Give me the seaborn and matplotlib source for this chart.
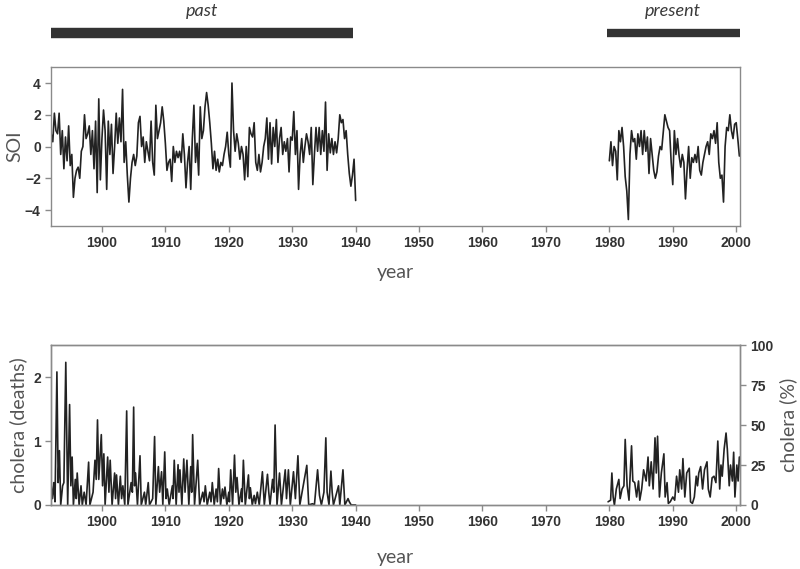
import numpy as np
import pandas as pd
import matplotlib
matplotlib.use("Agg")
import matplotlib.pyplot as plt
import seaborn as sns

# SOI, quarterly values
soi_past_start = 1892.0
soi_past = [
    0.8, 0.3, 2.1, 1.0,   0.8, 2.1, -0.5, 1.0,   -1.4, 0.6, -0.9, 1.3,
    -1.2, -0.5, -3.2, -2.0,   -1.5, -1.3, -2.0, -0.3,   0.0, 2.0, 0.5, 0.8,
    1.3, -0.5, 1.0, -1.4,   1.6, -2.9, 3.0, -2.1,   0.5, 2.3, 1.0, -2.7,
    1.6, -0.5, 1.4, -1.7,   0.0, 2.1, 0.2, 1.8,   0.3, 3.6, -1.0, 0.3,
    -1.8, -3.5, -2.0, -1.0,   -0.5, -1.2, -0.6, 1.5,   1.9, 0.0, 0.6, -1.0,
    0.3, -0.3, -0.9, 1.6,   -1.0, -1.8, 2.6, 0.5,   1.0, 1.5, 2.5, 1.6,
    0.2, -1.5, -1.0, -0.8,   -2.2, 0.0, -1.0, -0.3,   -0.7, -0.3, -1.0, 0.8,
    -0.5, -2.6, -1.0, 0.0,   -2.7, 0.5, 2.6, -1.0,   0.2, -1.8, 2.5, 0.5,
    1.0, 2.5, 3.4, 2.6,   1.5, 0.2, -1.4, -0.3,   -1.5, -0.8, -1.6, -1.0,
    -1.2, -0.5, 0.0, 0.9,   -0.5, -1.3, 4.0, 1.0,   -0.3, 0.8, 0.2, -0.8,
    0.0, -0.5, -2.1, 0.0,   -1.9, 1.2, 0.8, 0.6,   1.5, -1.0, -1.5, -0.5,
    -1.6, -1.0, 0.0, 0.5,   1.8, -0.8, 1.5, -1.1,   1.2, 0.0, 1.7, -1.0,
    0.5, 1.2, -0.5, 0.3,   -0.3, 0.5, -1.6, 0.6,   0.4, 2.2, -0.5, 1.0,
    -2.7, -0.5, 0.5, -1.0,   0.0, 0.8, 0.3, -0.5,   1.2, -2.4, -0.5, 1.2,
    -0.3, 1.2, -0.5, 1.0,   -0.3, 2.8, -1.5, 0.8,   -0.4, 0.5, -0.5, 0.3,
    -0.4, 0.5, 2.0, 1.5,   1.7, 0.5, 1.0, -0.5,   -1.7, -2.5, -1.8, -0.8,
    -3.4,
]
soi_present_start = 1980.0
soi_present = [
    -0.9, 0.3, -1.2, 0.0,   -0.3, -2.1, 1.0, 0.3,   1.2, 0.0, -1.9, -2.8,
    -4.6, -0.5, 1.0, 0.3,   0.5, -0.8, 0.8, 0.0,   1.0, -0.5, 1.0, -0.3,
    0.6, -1.7, 0.5, -0.5,   -1.5, -2.0, -1.6, -0.6,   0.0, -0.2, 0.9, 2.0,
    1.6, 1.2, 1.0, -1.0,   -2.4, 1.0, -0.5, 0.5,   -0.6, -1.3, -0.5, -1.0,
    -3.3, -1.5, 0.0, -2.0,   -0.7, -1.0, -0.5, -1.0,   0.0, -1.5, -1.8, -1.0,
    -0.5, 0.0, 0.3, -0.5,   0.8, 0.5, 1.0, 0.2,   1.5, -1.0, -2.0, -1.8,
    -3.5, 0.0, 1.2, 1.0,   2.0, 1.0, 0.5, 1.4,   1.5, 0.5, -0.6,
]

# cholera deaths (past), peaks and troughs
chol_past_year = [
    1892.0, 1892.2, 1892.4, 1892.6, 1892.9, 1893.1, 1893.3, 1893.5, 1893.8, 1894.0,
    1894.3, 1894.6, 1894.9, 1895.1, 1895.3, 1895.5, 1895.8, 1895.95, 1896.1, 1896.4,
    1896.7, 1896.9, 1897.2, 1897.5, 1897.9, 1898.1, 1898.6, 1898.9, 1899.1, 1899.3,
    1899.5, 1899.9, 1900.1, 1900.3, 1900.5, 1900.9, 1901.1, 1901.3, 1901.6, 1902.0,
    1902.15, 1902.3, 1902.6, 1902.9, 1903.1, 1903.3, 1903.6, 1903.9, 1904.1, 1904.6,
    1904.8, 1905.0, 1905.15, 1905.3, 1905.6, 1906.0, 1906.2, 1906.7, 1906.9, 1907.3,
    1907.5, 1908.0, 1908.3, 1908.5, 1908.9, 1909.1, 1909.4, 1909.6, 1909.9, 1910.1,
    1910.3, 1910.6, 1911.1, 1911.2, 1911.4, 1911.7, 1912.0, 1912.15, 1912.3, 1912.6,
    1912.9, 1913.1, 1913.4, 1913.7, 1914.0, 1914.15, 1914.3, 1914.6, 1915.1, 1915.4,
    1915.9, 1916.1, 1916.3, 1916.6, 1917.0, 1917.2, 1917.4, 1917.7, 1918.0, 1918.2,
    1918.4, 1918.7, 1919.0, 1919.2, 1919.4, 1919.7, 1920.0, 1920.1, 1920.3, 1920.6,
    1920.9, 1921.1, 1921.3, 1921.6, 1922.0, 1922.1, 1922.3, 1922.6, 1923.1, 1923.25,
    1923.4, 1923.7, 1924.0, 1924.2, 1924.5, 1924.8, 1925.3, 1925.6, 1926.1, 1926.3,
    1926.5, 1926.9, 1927.1, 1927.3, 1927.6, 1928.0, 1928.3, 1928.9, 1929.1, 1929.4,
    1929.7, 1930.2, 1930.5, 1930.9, 1931.2, 1932.3, 1932.6, 1933.2, 1933.5, 1934.0,
    1934.3, 1934.6, 1935.0, 1935.3, 1935.5, 1935.8, 1936.1, 1936.3, 1936.5, 1937.3,
    1937.5, 1938.0, 1938.3, 1938.8, 1939.0, 1939.3, 1940.0,
]
chol_past_deaths = [
    0.3, 0.1, 0.35, 0.05, 2.08, 0.35, 0.85, 0.0, 0.3, 0.35,
    2.23, 0.0, 1.57, 0.3, 0.75, 0.0, 0.4, 0.1, 0.5, 0.0,
    0.3, 0.0, 0.2, 0.0, 0.67, 0.0, 0.2, 0.7, 0.4, 1.33,
    0.4, 1.1, 0.3, 0.8, 0.0, 0.75, 0.2, 0.7, 0.0, 0.5,
    0.1, 0.47, 0.0, 0.45, 0.1, 0.3, 0.0, 1.47, 0.0, 0.35,
    0.2, 1.53, 0.3, 0.5, 0.0, 0.77, 0.0, 0.2, 0.0, 0.35,
    0.0, 0.1, 1.07, 0.0, 0.6, 0.2, 0.52, 0.0, 0.83, 0.1,
    0.25, 0.0, 0.3, 0.1, 0.7, 0.0, 0.63, 0.2, 0.55, 0.0,
    0.72, 0.2, 0.7, 0.0, 0.6, 0.2, 1.1, 0.0, 0.7, 0.0,
    0.2, 0.05, 0.3, 0.0, 0.2, 0.05, 0.35, 0.0, 0.25, 0.05,
    0.57, 0.0, 0.25, 0.1, 0.28, 0.0, 0.2, 0.05, 0.55, 0.0,
    0.78, 0.2, 0.43, 0.0, 0.25, 0.05, 0.7, 0.0, 0.47, 0.1,
    0.27, 0.0, 0.15, 0.02, 0.2, 0.0, 0.52, 0.0, 0.48, 0.2,
    0.0, 0.4, 0.2, 1.25, 0.0, 0.5, 0.0, 0.55, 0.1, 0.55,
    0.0, 0.52, 0.1, 0.77, 0.0, 0.62, 0.0, 0.02, 0.0, 0.55,
    0.15, 0.0, 0.2, 1.05, 0.2, 0.0, 0.53, 0.2, 0.0, 0.3,
    0.0, 0.55, 0.0, 0.1, 0.05, 0.0, 0.0,
]

# cholera (% of cases), present
chol_now_year = [
    1979.8, 1980.2, 1980.4, 1980.6, 1980.8, 1981.1, 1981.5, 1981.7, 1982.0, 1982.3,
    1982.5, 1982.8, 1983.1, 1983.5, 1983.7, 1984.0, 1984.3, 1984.6, 1984.8, 1985.1,
    1985.4, 1985.8, 1986.1, 1986.3, 1986.6, 1986.9, 1987.2, 1987.4, 1987.6, 1987.9,
    1988.2, 1988.6, 1988.8, 1989.1, 1989.3, 1989.6, 1990.0, 1990.3, 1990.6, 1990.9,
    1991.1, 1991.4, 1991.6, 1991.9, 1992.2, 1992.6, 1992.8, 1993.1, 1993.4, 1993.7,
    1993.9, 1994.1, 1994.4, 1994.7, 1995.0, 1995.4, 1995.6, 1995.9, 1996.2, 1996.5,
    1996.8, 1997.1, 1997.4, 1997.6, 1997.8, 1998.1, 1998.4, 1998.6, 1998.9, 1999.1,
    1999.4, 1999.6, 1999.8, 2000.1, 2000.3, 2000.5,
]
chol_now_pct = [
    2, 3, 20, 5, 0, 10, 16, 4, 10, 12,
    41, 12, 3, 37, 15, 14, 5, 15, 3, 10,
    22, 15, 30, 12, 27, 10, 42, 20, 43, 5,
    20, 32, 5, 14, 1, 2, 5, 3, 18, 8,
    22, 10, 29, 5, 20, 23, 2, 1, 5, 18,
    12, 20, 24, 10, 22, 27, 10, 5, 17, 18,
    14, 40, 10, 25, 18, 35, 45, 35, 12, 25,
    15, 33, 5, 25, 15, 30,
]

periods = ["past", "present"]
period_start = [1892.0, 1979.7]
period_end = [1939.6, 2000.6]
period_label_x = [1915.8, 1990.0]

sns.set_style("white")
plt.rcParams["font.family"] = ["Liberation Sans", "DejaVu Sans"]

line_col = "#222222"
spine_col = "#8a8a8a"
label_col = "#555555"
xlim = (1892.0, 2000.6)

fig = plt.figure(figsize=(8, 5.69), dpi=100)
ax_bar = fig.add_axes([0.064, 0.93, 0.861, 0.06])
ax1 = fig.add_axes([0.064, 0.603, 0.861, 0.279])
ax2 = fig.add_axes([0.064, 0.1125, 0.861, 0.281])
ax3 = ax2.twinx()

past_df = pd.DataFrame({"year": soi_past_start + 0.25 * np.arange(len(soi_past)), "SOI": soi_past})
now_df = pd.DataFrame({"year": soi_present_start + 0.25 * np.arange(len(soi_present)), "SOI": soi_present})
sns.lineplot(data=past_df, x="year", y="SOI", ax=ax1, color=line_col, linewidth=1.2)
sns.lineplot(data=now_df, x="year", y="SOI", ax=ax1, color=line_col, linewidth=1.2)
sns.lineplot(x=chol_past_year, y=chol_past_deaths, ax=ax2, color=line_col, linewidth=1.2)
sns.lineplot(x=chol_now_year, y=chol_now_pct, ax=ax3, color=line_col, linewidth=1.2)

# period bars
widths = [7.5, 6.0]
for name, s, e, lx, w in zip(periods, period_start, period_end, period_label_x, widths):
    ax_bar.hlines(0.3, s, e, color="#333333", linewidth=w)
    ax_bar.text(lx, 1.28, name, ha="center", va="center",
                fontsize=13, style="italic", color="#3a3a3a", family=["Lato", "DejaVu Sans"])
ax_bar.set_xlim(xlim)
ax_bar.set_ylim(0, 1.5)
ax_bar.axis("off")

for ax in (ax1, ax2):
    ax.set_xlim(xlim)
    ax.set_xticks(range(1900, 2001, 10))
ax1.set_ylim(-5, 5)
ax1.set_yticks([-4, -2, 0, 2, 4])
ax2.set_ylim(0, 2.5)
ax2.set_yticks([0, 1, 2])
ax3.set_ylim(0, 100)
ax3.set_yticks([0, 25, 50, 75, 100])

lab_font = dict(fontsize=14, color=label_col, family=["Lato", "DejaVu Sans"])
ax1.set_xlabel("year", labelpad=10, **lab_font)
ax1.set_ylabel("SOI", labelpad=1, **lab_font)
ax2.set_xlabel("year", labelpad=14, **lab_font)
ax2.set_ylabel("cholera (deaths)", labelpad=4, **lab_font)
ax3.set_ylabel("cholera (%)", labelpad=4, **lab_font)

for ax in (ax1, ax2, ax3):
    for sp in ax.spines.values():
        sp.set_color(spine_col)
        sp.set_linewidth(1.0)
    ax.tick_params(axis="both", which="both", length=4, width=1, color=spine_col,
                   labelsize=10, labelcolor="#333333", direction="out")
    for lbl in ax.get_xticklabels() + ax.get_yticklabels():
        lbl.set_fontweight("bold")
ax1.tick_params(left=True, bottom=True)
ax2.tick_params(left=True, bottom=True)
ax3.tick_params(right=True)

fig.savefig("out.png", dpi=100)
